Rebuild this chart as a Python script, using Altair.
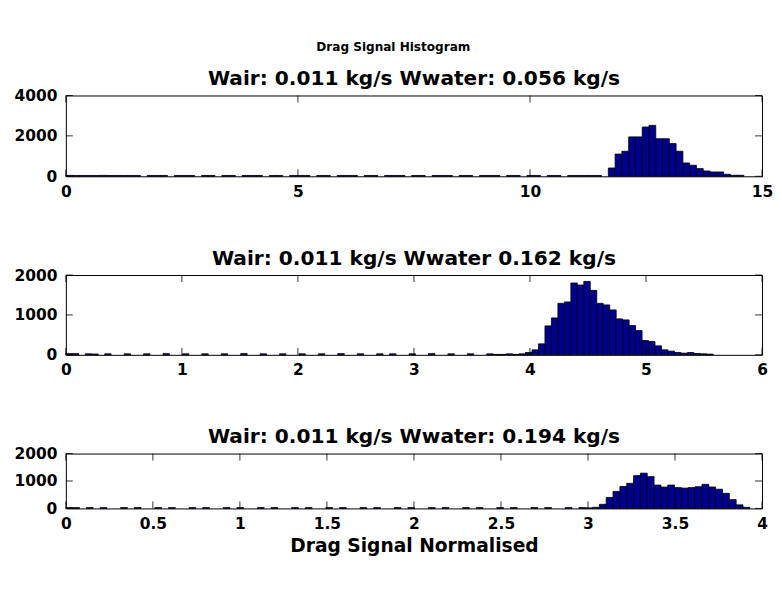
import altair as alt
import numpy as np
import pandas as pd

FONT = "DejaVu Sans"

fig_title = "Drag Signal Histogram"
panel_titles = [
    "Wair: 0.011 kg/s Wwater: 0.056 kg/s",
    "Wair: 0.011 kg/s Wwater 0.162 kg/s",
    "Wair: 0.011 kg/s Wwater: 0.194 kg/s",
]
x_label = "Drag Signal Normalised"

# bin widths (100 bins each, starting at 0)
bin_w = [0.1461, 0.0558, 0.0393]

# panel 1 counts (100 bins)
counts1 = [45, 40, 40, 40, 40, 45, 40, 40, 40, 40,
           40, 0, 40, 40, 40, 0, 40, 40, 40, 0,
           40, 40, 0, 40, 40, 0, 40, 40, 40, 0,
           40, 40, 0, 40, 40, 40, 0, 40, 40, 0,
           40, 40, 40, 0, 40, 40, 0, 40, 40, 40,
           0, 40, 40, 0, 40, 40, 40, 0, 40, 40,
           0, 40, 40, 40, 0, 40, 40, 0, 40, 40,
           0, 40, 40, 0, 40, 40, 40, 40, 40, 0,
           410, 1100, 1240, 1950, 1950, 2440, 2520, 1860, 1860, 1620,
           1240, 660, 545, 380, 263, 214, 214, 100, 50, 50]

# panel 2 counts (100 bins)
counts2 = [30, 30, 0, 25, 20, 0, 25, 0, 0, 25,
           0, 0, 25, 0, 0, 30, 0, 0, 25, 0,
           0, 25, 0, 0, 25, 0, 0, 30, 0, 0,
           25, 0, 0, 25, 0, 0, 25, 0, 0, 25,
           0, 0, 30, 0, 0, 25, 0, 0, 25, 0,
           25, 0, 0, 25, 0, 0, 30, 0, 0, 25,
           0, 0, 25, 0, 0, 25, 10, 10, 25, 10,
           25, 58, 125, 275, 725, 925, 1290, 1325, 1800, 1750,
           1840, 1615, 1290, 1250, 1125, 900, 875, 733, 608, 358,
           333, 225, 125, 92, 58, 42, 58, 33, 25, 17]

# panel 3 counts (100 bins)
counts3 = [30, 30, 0, 30, 0, 30, 0, 0, 30, 0,
           30, 0, 0, 30, 0, 30, 0, 0, 30, 0,
           30, 0, 0, 30, 0, 30, 0, 0, 30, 0,
           30, 0, 0, 30, 0, 30, 0, 0, 30, 0,
           30, 0, 0, 30, 0, 30, 0, 0, 30, 0,
           30, 0, 0, 30, 0, 30, 0, 0, 30, 0,
           30, 0, 0, 30, 0, 30, 0, 0, 30, 0,
           30, 0, 0, 30, 0, 30, 20, 40, 150, 400,
           620, 800, 915, 1196, 1285, 1159, 852, 780, 852, 760,
           740, 760, 790, 878, 780, 700, 550, 320, 130, 40]

x_domains = [[0, 15], [0, 6], [0, 4]]
x_ticks = [[0, 5, 10, 15], [0, 1, 2, 3, 4, 5, 6], [0, 0.5, 1, 1.5, 2, 2.5, 3, 3.5, 4]]
y_domains = [[0, 4000], [0, 2000], [0, 2000]]
y_ticks = [[0, 2000, 4000], [0, 1000, 2000], [0, 1000, 2000]]

W = 698
heights = [81, 80, 55]
TICK = 7
LBL = 15.5
counts_all = [counts1, counts2, counts3]


def panel(i):
    counts = counts_all[i]
    n = len(counts)
    edges = np.arange(n + 1) * bin_w[i]
    df = pd.DataFrame({"x": edges[:-1], "hi": edges[1:], "y": counts})
    df = df[df["y"] > 0]
    h = heights[i]
    xs = alt.Scale(domain=x_domains[i], nice=False, zero=False)
    ys = alt.Scale(domain=y_domains[i], nice=False)
    xaxis = alt.Axis(values=x_ticks[i], ticks=False, grid=False, domain=False,
                     labelFlush=False, labelPadding=8, labelFontSize=LBL,
                     labelFont=FONT, labelFontWeight="bold", labelColor="black",
                     format="~g",
                     title=x_label if i == 2 else None,
                     titleFont=FONT, titleFontSize=18.7, titleFontWeight="bold",
                     titleColor="black", titlePadding=5)
    yaxis = alt.Axis(values=y_ticks[i], ticks=False, grid=False, domain=False,
                     labelPadding=9, labelFontSize=LBL, labelFont=FONT, format="d",
                     labelFontWeight="bold", labelColor="black", title=None)
    bars = alt.Chart(df).mark_rect(color="#00008F", stroke="black", strokeWidth=0.8).encode(
        x=alt.X("x:Q", scale=xs, axis=xaxis),
        x2="hi:Q",
        y=alt.Y("y:Q", scale=ys, axis=yaxis),
        y2=alt.datum(0),
    )
    xt = pd.DataFrame({"x": x_ticks[i]})
    yt = pd.DataFrame({"y": y_ticks[i]})
    xb = alt.Chart(xt).mark_rule(color="black", strokeWidth=0.8).encode(
        x=alt.X("x:Q", scale=xs, axis=xaxis), y=alt.value(h), y2=alt.value(h - TICK))
    xtp = alt.Chart(xt).mark_rule(color="black", strokeWidth=0.8).encode(
        x=alt.X("x:Q", scale=xs, axis=xaxis), y=alt.value(0), y2=alt.value(TICK))
    yl = alt.Chart(yt).mark_rule(color="black", strokeWidth=0.8).encode(
        y=alt.Y("y:Q", scale=ys, axis=yaxis), x=alt.value(0), x2=alt.value(TICK))
    yr = alt.Chart(yt).mark_rule(color="black", strokeWidth=0.8).encode(
        y=alt.Y("y:Q", scale=ys, axis=yaxis), x=alt.value(W - TICK), x2=alt.value(W))
    return alt.layer(bars, xb, xtp, yl, yr).properties(
        width=W, height=h,
        title=alt.TitleParams(panel_titles[i], font=FONT, fontSize=20.2,
                              fontWeight="bold", color="black", offset=-1),
    )


chart = alt.vconcat(panel(0), panel(1), panel(2), spacing=48).properties(
    title=alt.TitleParams(fig_title, font=FONT, fontSize=12.1, fontWeight="bold",
                          color="black", anchor="middle", offset=15.5),
    background="white",
    padding={"left": 5, "top": 32, "right": 0, "bottom": 5},
).configure_view(stroke="black", strokeWidth=1)

chart.save("out.html", embed_options={"renderer": "svg", "actions": False})
